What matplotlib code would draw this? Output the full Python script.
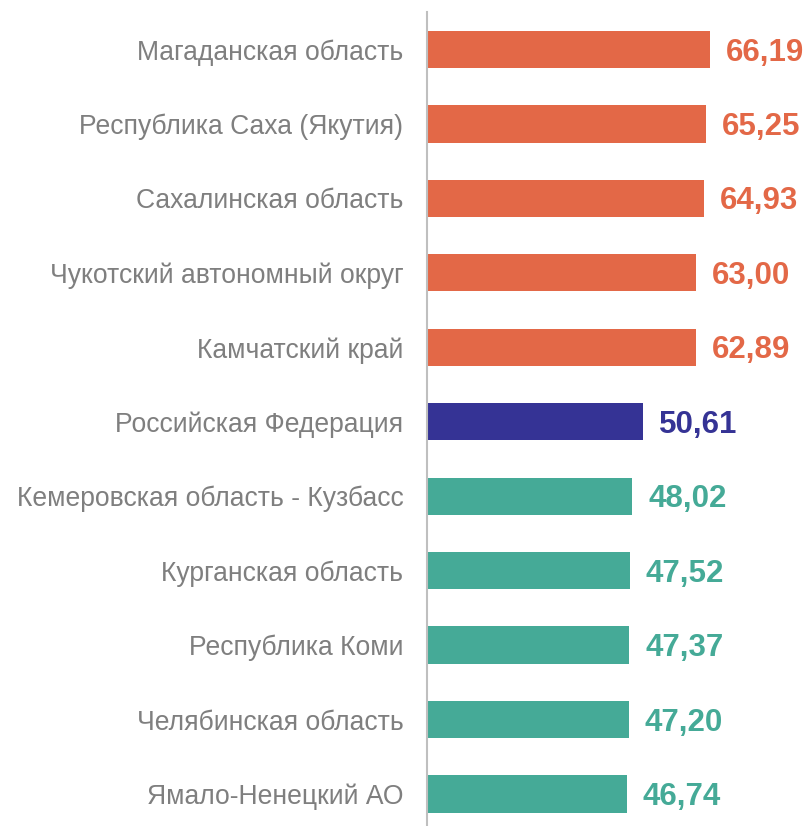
import matplotlib
matplotlib.use("Agg")
import matplotlib.pyplot as plt

categories = [
    "Магаданская область",
    "Республика Саха (Якутия)",
    "Сахалинская область",
    "Чукотский автономный округ",
    "Камчатский край",
    "Российская Федерация",
    "Кемеровская область - Кузбасс",
    "Курганская область",
    "Республика Коми",
    "Челябинская область",
    "Ямало-Ненецкий АО",
]
values = [66.19, 65.25, 64.93, 63.00, 62.89, 50.61, 48.02, 47.52, 47.37, 47.20, 46.74]
groups = ["top", "top", "top", "top", "top", "rf", "low", "low", "low", "low", "low"]
group_colors = {"top": "#E36847", "rf": "#353395", "low": "#45AA97"}

plt.rcParams["font.family"] = ["Liberation Sans", "DejaVu Sans"]

W, H = 810, 826
fig = plt.figure(figsize=(W / 100, H / 100), dpi=100)
ax = fig.add_axes([427 / W, 0, (800 - 427) / W, 1 - 12 / H])

ypos = list(range(len(categories)))
colors = [group_colors[g] for g in groups]
ax.barh(ypos, values, height=0.5, color=colors)

ax.set_xlim(0, 87.35)
ax.set_ylim(10.43, -0.504)

for y, v, c in zip(ypos, values, colors):
    ax.annotate(f"{v:.2f}".replace(".", ","), xy=(v, y), xytext=(16, -3),
                textcoords="offset pixels", va="center", ha="left",
                fontsize=22.5, fontweight="bold", color=c)

ax.set_yticks(ypos)
ax.set_yticklabels(categories, fontsize=19.1, color="#7F7F7F")
ax.tick_params(axis="y", length=0, pad=17)
ax.set_xticks([])
for s in ["top", "right", "bottom"]:
    ax.spines[s].set_visible(False)
ax.spines["left"].set_color("#BFBFBF")
ax.spines["left"].set_linewidth(1.5)

fig.savefig("out.png", dpi=100)
